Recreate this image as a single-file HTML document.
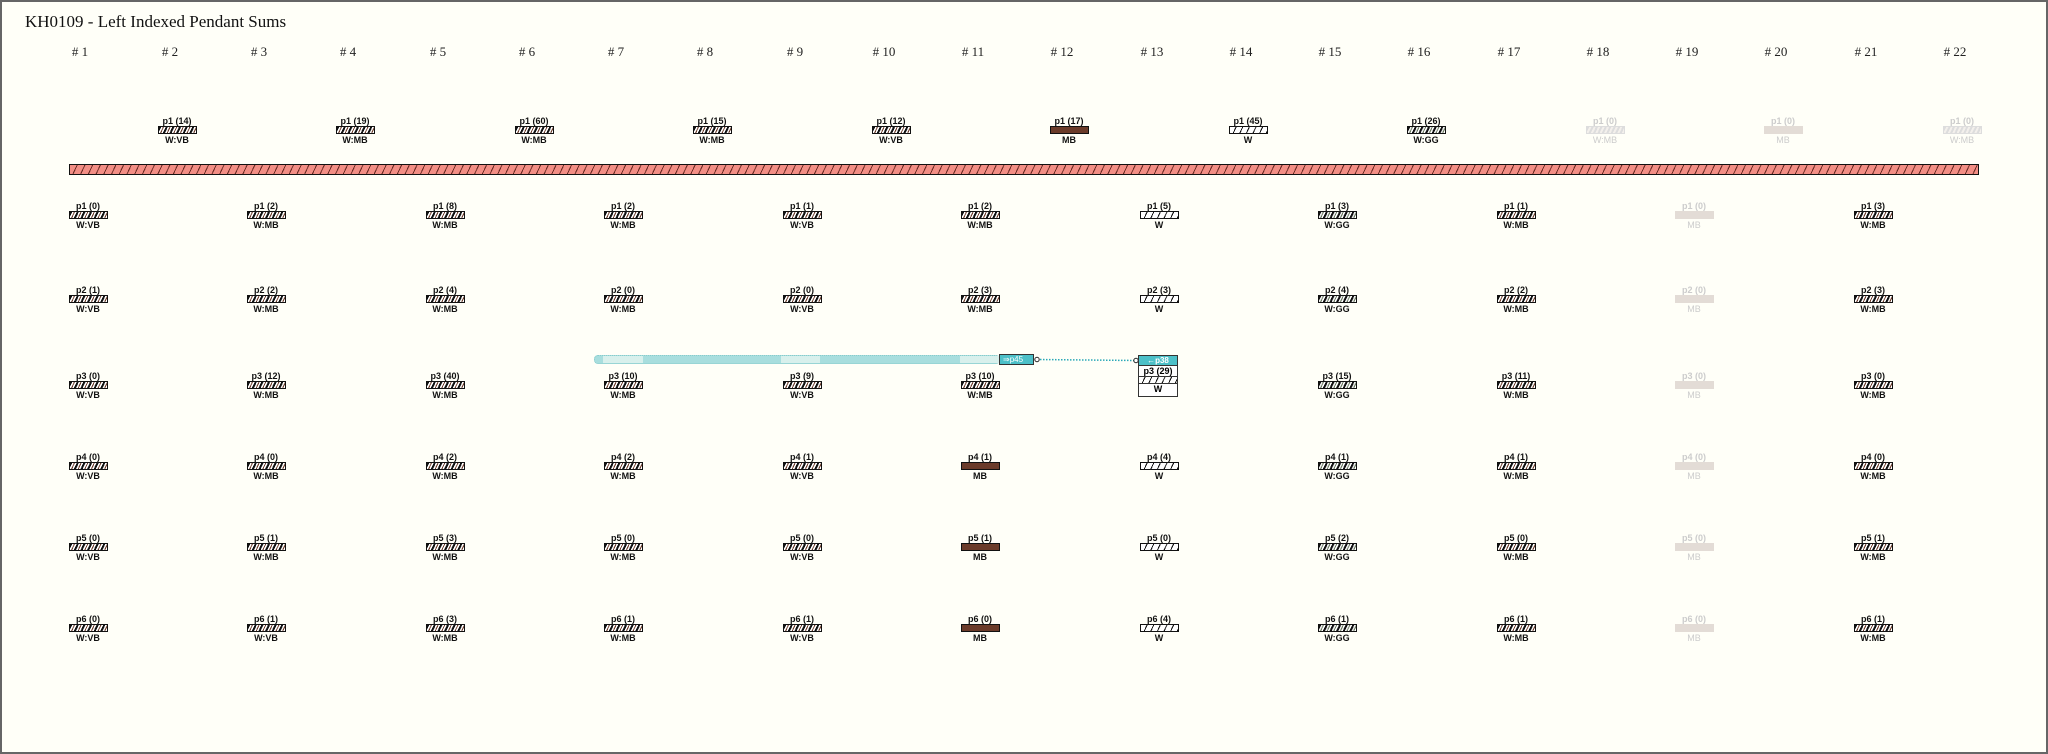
<!DOCTYPE html>
<html><head><meta charset="utf-8"><style>
*{margin:0;padding:0;box-sizing:border-box}
body{width:2048px;height:754px;background:#fffff8;position:relative;overflow:hidden;font-family:"Liberation Sans",sans-serif}
#frame{position:absolute;left:0;top:0;width:2048px;height:754px;border:2px solid #666}
.t{position:absolute;left:25px;top:12px;font:17px "Liberation Serif",serif;color:#111}
.c{position:absolute;top:44px;width:40px;margin-left:-27px;text-align:center;font:13px "Liberation Serif",serif;color:#222}
.n{position:absolute;width:70px;margin-left:-35px;text-align:center;font-size:9px;line-height:10px;color:#111;font-weight:bold}
.n b{display:block;height:10px}
.n i{display:block;width:39px;height:8px;margin:0 auto 1px;border:1px solid #111;background:repeating-linear-gradient(115deg,#111 0 2px,#fff 2px 3.5px,#6a3a28 3.5px 4.5px,#fff 4.5px 6px)}
.n i.br{background:#6b3b2a}
.n i.w{background:repeating-linear-gradient(115deg,#fff 0 5px,#111 5px 6px)}
.n i.gg{background:repeating-linear-gradient(115deg,#111 0 2px,#eee 2px 3.5px,#6a7a60 3.5px 4.5px,#fff 4.5px 6px)}
.n.f{color:#ccc;font-weight:normal}
.n.f i{border-color:#ddd;background:repeating-linear-gradient(115deg,#ddd 0 2px,#f3f0ec 2px 4px)}
.n.f i.g{background:#e3dcd6;border-color:#e3dcd6}
#bar{position:absolute;left:69px;top:164px;width:1910px;height:11px;border:1.5px solid #111;background:repeating-linear-gradient(115deg,#f28e85 0 6px,#6b2a24 6px 7px)}
</style></head><body>
<div id="frame"></div>
<div class="t">KH0109 - Left Indexed Pendant Sums</div>
<div class="c" style="left:87px"># 1</div><div class="c" style="left:177px"># 2</div><div class="c" style="left:266px"># 3</div><div class="c" style="left:355px"># 4</div><div class="c" style="left:445px"># 5</div><div class="c" style="left:534px"># 6</div><div class="c" style="left:623px"># 7</div><div class="c" style="left:712px"># 8</div><div class="c" style="left:802px"># 9</div><div class="c" style="left:891px"># 10</div><div class="c" style="left:980px"># 11</div><div class="c" style="left:1069px"># 12</div><div class="c" style="left:1159px"># 13</div><div class="c" style="left:1248px"># 14</div><div class="c" style="left:1337px"># 15</div><div class="c" style="left:1426px"># 16</div><div class="c" style="left:1516px"># 17</div><div class="c" style="left:1605px"># 18</div><div class="c" style="left:1694px"># 19</div><div class="c" style="left:1783px"># 20</div><div class="c" style="left:1873px"># 21</div><div class="c" style="left:1962px"># 22</div>

<div class="n" style="left:177px;top:116px"><b>p1 (14)</b><i></i>W:VB</div>
<div class="n" style="left:355px;top:116px"><b>p1 (19)</b><i></i>W:MB</div>
<div class="n" style="left:534px;top:116px"><b>p1 (60)</b><i></i>W:MB</div>
<div class="n" style="left:712px;top:116px"><b>p1 (15)</b><i></i>W:MB</div>
<div class="n" style="left:891px;top:116px"><b>p1 (12)</b><i></i>W:VB</div>
<div class="n" style="left:1069px;top:116px"><b>p1 (17)</b><i class="br"></i>MB</div>
<div class="n" style="left:1248px;top:116px"><b>p1 (45)</b><i class="w"></i>W</div>
<div class="n" style="left:1426px;top:116px"><b>p1 (26)</b><i class="gg"></i>W:GG</div>
<div class="n f" style="left:1605px;top:116px"><b>p1 (0)</b><i></i>W:MB</div>
<div class="n f" style="left:1783px;top:116px"><b>p1 (0)</b><i class="g"></i>MB</div>
<div class="n f" style="left:1962px;top:116px"><b>p1 (0)</b><i></i>W:MB</div>

<div id="bar"></div>

<div class="n" style="left:88px;top:201px"><b>p1 (0)</b><i></i>W:VB</div>
<div class="n" style="left:88px;top:285px"><b>p2 (1)</b><i></i>W:VB</div>
<div class="n" style="left:88px;top:371px"><b>p3 (0)</b><i></i>W:VB</div>
<div class="n" style="left:88px;top:452px"><b>p4 (0)</b><i></i>W:VB</div>
<div class="n" style="left:88px;top:533px"><b>p5 (0)</b><i></i>W:VB</div>
<div class="n" style="left:88px;top:614px"><b>p6 (0)</b><i></i>W:VB</div>
<div class="n" style="left:266px;top:201px"><b>p1 (2)</b><i></i>W:MB</div>
<div class="n" style="left:266px;top:285px"><b>p2 (2)</b><i></i>W:MB</div>
<div class="n" style="left:266px;top:371px"><b>p3 (12)</b><i></i>W:MB</div>
<div class="n" style="left:266px;top:452px"><b>p4 (0)</b><i></i>W:MB</div>
<div class="n" style="left:266px;top:533px"><b>p5 (1)</b><i></i>W:MB</div>
<div class="n" style="left:266px;top:614px"><b>p6 (1)</b><i></i>W:VB</div>
<div class="n" style="left:445px;top:201px"><b>p1 (8)</b><i></i>W:MB</div>
<div class="n" style="left:445px;top:285px"><b>p2 (4)</b><i></i>W:MB</div>
<div class="n" style="left:445px;top:371px"><b>p3 (40)</b><i></i>W:MB</div>
<div class="n" style="left:445px;top:452px"><b>p4 (2)</b><i></i>W:MB</div>
<div class="n" style="left:445px;top:533px"><b>p5 (3)</b><i></i>W:MB</div>
<div class="n" style="left:445px;top:614px"><b>p6 (3)</b><i></i>W:MB</div>
<div class="n" style="left:623px;top:201px"><b>p1 (2)</b><i></i>W:MB</div>
<div class="n" style="left:623px;top:285px"><b>p2 (0)</b><i></i>W:MB</div>
<div class="n" style="left:623px;top:371px"><b>p3 (10)</b><i></i>W:MB</div>
<div class="n" style="left:623px;top:452px"><b>p4 (2)</b><i></i>W:MB</div>
<div class="n" style="left:623px;top:533px"><b>p5 (0)</b><i></i>W:MB</div>
<div class="n" style="left:623px;top:614px"><b>p6 (1)</b><i></i>W:MB</div>
<div class="n" style="left:802px;top:201px"><b>p1 (1)</b><i></i>W:VB</div>
<div class="n" style="left:802px;top:285px"><b>p2 (0)</b><i></i>W:VB</div>
<div class="n" style="left:802px;top:371px"><b>p3 (9)</b><i></i>W:VB</div>
<div class="n" style="left:802px;top:452px"><b>p4 (1)</b><i></i>W:VB</div>
<div class="n" style="left:802px;top:533px"><b>p5 (0)</b><i></i>W:VB</div>
<div class="n" style="left:802px;top:614px"><b>p6 (1)</b><i></i>W:VB</div>
<div class="n" style="left:980px;top:201px"><b>p1 (2)</b><i></i>W:MB</div>
<div class="n" style="left:980px;top:285px"><b>p2 (3)</b><i></i>W:MB</div>
<div class="n" style="left:980px;top:371px"><b>p3 (10)</b><i></i>W:MB</div>
<div class="n" style="left:980px;top:452px"><b>p4 (1)</b><i class="br"></i>MB</div>
<div class="n" style="left:980px;top:533px"><b>p5 (1)</b><i class="br"></i>MB</div>
<div class="n" style="left:980px;top:614px"><b>p6 (0)</b><i class="br"></i>MB</div>
<div class="n" style="left:1159px;top:201px"><b>p1 (5)</b><i class="w"></i>W</div>
<div class="n" style="left:1159px;top:285px"><b>p2 (3)</b><i class="w"></i>W</div>
<div class="n" style="left:1159px;top:452px"><b>p4 (4)</b><i class="w"></i>W</div>
<div class="n" style="left:1159px;top:533px"><b>p5 (0)</b><i class="w"></i>W</div>
<div class="n" style="left:1159px;top:614px"><b>p6 (4)</b><i class="w"></i>W</div>
<div class="n" style="left:1337px;top:201px"><b>p1 (3)</b><i class="gg"></i>W:GG</div>
<div class="n" style="left:1337px;top:285px"><b>p2 (4)</b><i class="gg"></i>W:GG</div>
<div class="n" style="left:1337px;top:371px"><b>p3 (15)</b><i class="gg"></i>W:GG</div>
<div class="n" style="left:1337px;top:452px"><b>p4 (1)</b><i class="gg"></i>W:GG</div>
<div class="n" style="left:1337px;top:533px"><b>p5 (2)</b><i class="gg"></i>W:GG</div>
<div class="n" style="left:1337px;top:614px"><b>p6 (1)</b><i class="gg"></i>W:GG</div>
<div class="n" style="left:1516px;top:201px"><b>p1 (1)</b><i></i>W:MB</div>
<div class="n" style="left:1516px;top:285px"><b>p2 (2)</b><i></i>W:MB</div>
<div class="n" style="left:1516px;top:371px"><b>p3 (11)</b><i></i>W:MB</div>
<div class="n" style="left:1516px;top:452px"><b>p4 (1)</b><i></i>W:MB</div>
<div class="n" style="left:1516px;top:533px"><b>p5 (0)</b><i></i>W:MB</div>
<div class="n" style="left:1516px;top:614px"><b>p6 (1)</b><i></i>W:MB</div>
<div class="n f" style="left:1694px;top:201px"><b>p1 (0)</b><i class="g"></i>MB</div>
<div class="n f" style="left:1694px;top:285px"><b>p2 (0)</b><i class="g"></i>MB</div>
<div class="n f" style="left:1694px;top:371px"><b>p3 (0)</b><i class="g"></i>MB</div>
<div class="n f" style="left:1694px;top:452px"><b>p4 (0)</b><i class="g"></i>MB</div>
<div class="n f" style="left:1694px;top:533px"><b>p5 (0)</b><i class="g"></i>MB</div>
<div class="n f" style="left:1694px;top:614px"><b>p6 (0)</b><i class="g"></i>MB</div>
<div class="n" style="left:1873px;top:201px"><b>p1 (3)</b><i></i>W:MB</div>
<div class="n" style="left:1873px;top:285px"><b>p2 (3)</b><i></i>W:MB</div>
<div class="n" style="left:1873px;top:371px"><b>p3 (0)</b><i></i>W:MB</div>
<div class="n" style="left:1873px;top:452px"><b>p4 (0)</b><i></i>W:MB</div>
<div class="n" style="left:1873px;top:533px"><b>p5 (1)</b><i></i>W:MB</div>
<div class="n" style="left:1873px;top:614px"><b>p6 (1)</b><i></i>W:MB</div>

<div style="position:absolute;left:594px;top:355px;width:406px;height:9px;border:1px dotted #8cc;border-radius:4px;background:#a8dede"></div>
<div style="position:absolute;left:603px;top:356px;width:40px;height:7px;background:#d8f0ec"></div>
<div style="position:absolute;left:781px;top:356px;width:39px;height:7px;background:#d8f0ec"></div>
<div style="position:absolute;left:960px;top:356px;width:39px;height:7px;background:#d8f0ec"></div>
<div style="position:absolute;left:999px;top:354px;width:35px;height:11px;background:#4cc0c8;border:1px solid #333;color:#fff;font-size:8px;line-height:9px;padding-left:3px">⇒p45</div>
<svg style="position:absolute;left:0;top:0" width="2048" height="754">
<line x1="1037" y1="359.5" x2="1136" y2="360.5" stroke="#2aa8b8" stroke-width="1.5" stroke-dasharray="1.5 1.5"/>
<circle cx="1037" cy="359.5" r="2.2" fill="#fff" stroke="#222" stroke-width="1"/>
<circle cx="1136" cy="360.5" r="2.2" fill="#fff" stroke="#222" stroke-width="1"/>
</svg>
<div style="position:absolute;left:1138px;top:355px;width:40px;height:42px;border:1px solid #333;background:#fff;font-size:9px;text-align:center;line-height:10px;font-weight:bold">
<div style="background:#4cc0c8;color:#fff;height:10px;border-bottom:1px solid #333;font-size:8px">←p38</div>
<div style="height:10px">p3 (29)</div>
<div style="height:8px;border-top:1px solid #333;border-bottom:1px solid #333;background:repeating-linear-gradient(115deg,#fff 0 5px,#111 5px 6px)"></div>
<div style="height:11px;line-height:11px">W</div>
</div>
</body></html>
